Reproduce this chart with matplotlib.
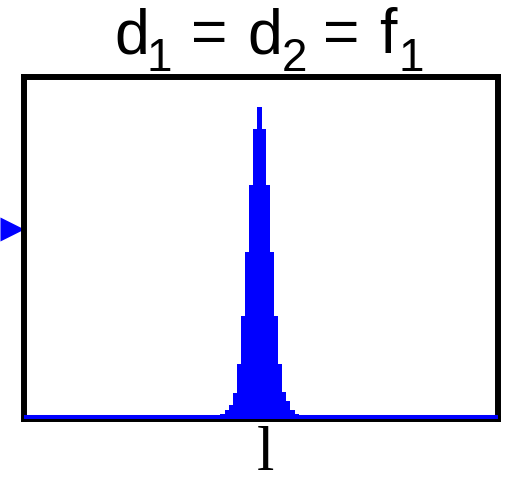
import matplotlib
matplotlib.use("Agg")
import matplotlib.pyplot as plt
from matplotlib.path import Path

# ---- data ----
bin_centers = list(range(-9, 10))
counts = [0.008, 0.020, 0.035, 0.070, 0.155, 0.296, 0.484, 0.683, 0.848,
          0.912,
          0.848, 0.683, 0.484, 0.296, 0.155, 0.073, 0.047, 0.020, 0.008]
marker_level = [0.552]
title_parts = ["d", "1", "=", "d", "2", "=", "f", "1"]
title_is_sub = [False, True, False, False, True, False, False, True]
x_label = "l"

# ---- layout ----
W, H = 508, 485
fig = plt.figure(figsize=(W / 100, H / 100), dpi=100)
ax = fig.add_axes([24 / W, 1 - 419.5 / H, 473.5 / W, 341.5 / H])
ax.set_xlim(-57.2, 57.8)
ax.set_ylim(-0.0044, 1.0)

blue = (0, 0, 1)
ax.bar(bin_centers, counts, width=1.0, color=blue, linewidth=0, zorder=2)
ax.axhline(0, color=blue, lw=2.9, zorder=3, solid_capstyle='round')

# left marker (arrow head pointing at the axis)
tri = Path([(-1, 0.5), (0, 0), (-1, -0.5), (-1, 0.5)],
           [Path.MOVETO, Path.LINETO, Path.LINETO, Path.CLOSEPOLY])
ax.plot([0], marker_level, transform=ax.get_yaxis_transform(), marker=tri,
        ms=34.6, color=blue, mec='none', clip_on=False, zorder=1, ls='none')

ax.set_xticks([])
ax.set_yticks([])
for sp in ax.spines.values():
    sp.set_linewidth(4.3)
    sp.set_color('black')
    sp.set_capstyle('projecting')

# ---- title built from pieces (main text + lowered subscripts) ----
centers_px = [131.7, 159.0, 209.3, 265.0, 294.3, 341.5, 387.5, 411.5]
for s, sub, cx in zip(title_parts, title_is_sub, centers_px):
    by = 70.7 if sub else 53.3
    fig.text(cx / W, 1 - by / H, s, ha='center', va='baseline',
             fontsize=33 if sub else 45, family='Liberation Sans')

# x label, kept fully inside the figure
fig.text(265 / W, 1 / H, x_label, ha='center', va='bottom',
         fontsize=45, family='Liberation Serif')

fig.savefig("out.png", dpi=100)
